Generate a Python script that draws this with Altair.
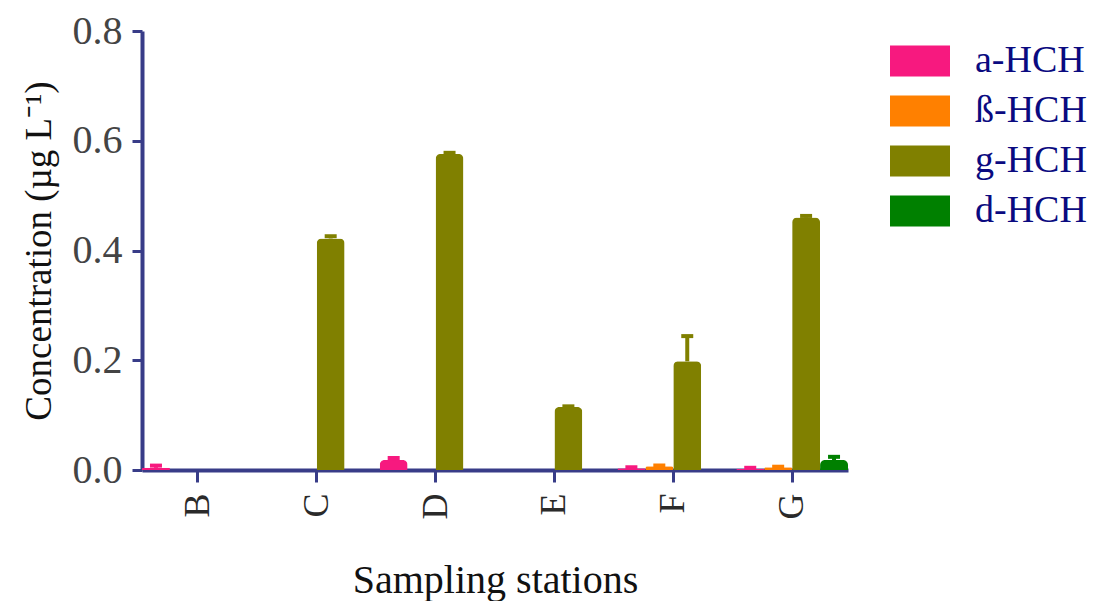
import altair as alt
import pandas as pd

# Mean HCH isomer concentrations (µg/L) per sampling station, with error bar heights
stations = ["B", "C", "D", "E", "F", "G"]
isomers = ["a-HCH", "ß-HCH", "g-HCH", "d-HCH"]
colors = ["#F7197F", "#FF8000", "#808000", "#008000"]

a_hch = [0.004, 0.0, 0.018, 0.0, 0.003, 0.002]
b_hch = [0.0, 0.0, 0.0, 0.0, 0.007, 0.005]
g_hch = [0.0, 0.422, 0.576, 0.115, 0.198, 0.460]
d_hch = [0.0, 0.0, 0.0, 0.0, 0.0, 0.018]

a_err = [0.004, 0.0, 0.004, 0.0, 0.002, 0.002]
b_err = [0.0, 0.0, 0.0, 0.0, 0.001, 0.001]
g_err = [0.0, 0.004, 0.002, 0.001, 0.046, 0.003]
d_err = [0.0, 0.0, 0.0, 0.0, 0.0, 0.006]

rows = []
for vals, errs, iso in zip([a_hch, b_hch, g_hch, d_hch], [a_err, b_err, g_err, d_err], isomers):
    for st, v, e in zip(stations, vals, errs):
        rows.append({"station": st, "isomer": iso, "value": v, "upper": v + e})
df = pd.DataFrame(rows)

FONT = "Liberation Serif"
AXIS_COLOR = "#383C88"

x_scale = alt.Scale(domain=stations, paddingInner=0.06, paddingOuter=0.0)
off_scale = alt.Scale(domain=isomers, paddingInner=0.0, paddingOuter=0.0)
color_scale = alt.Scale(domain=isomers, range=colors)
y_scale = alt.Scale(domain=[0, 0.8], nice=False)

x_enc = alt.X(
    "station:N",
    scale=x_scale,
    axis=alt.Axis(
        title="Sampling stations",
        labelAngle=-90,
        labelAlign="right",
        labelBaseline="middle",
        labelFont=FONT,
        labelFontSize=36,
        labelColor="#2a2a2a",
        labelPadding=11,
        titleFont=FONT,
        titleFontSize=40,
        titleFontWeight="normal",
        titleColor="#111111",
        titlePadding=42,
        domainColor=AXIS_COLOR,
        domainWidth=4,
        tickColor=AXIS_COLOR,
        tickWidth=3,
        tickSize=12,
    ),
)
off_enc = alt.XOffset("isomer:N", scale=off_scale, sort=isomers)
color_enc = alt.Color(
    "isomer:N",
    scale=color_scale,
    legend=alt.Legend(
        title=None,
        orient="none",
        legendX=748,
        legendY=0,
        symbolType="M-1,-0.52H1V0.52H-1Z",
        symbolSize=3600,
        symbolStrokeWidth=0,
        symbolOpacity=1,
        labelFont=FONT,
        labelFontSize=38,
        labelColor="#0A0A80",
        labelOffset=25,
        rowPadding=1,
    ),
)
y_enc = alt.Y(
    "value:Q",
    scale=y_scale,
    axis=alt.Axis(
        title="Concentration (µg L⁻¹)",
        values=[0, 0.2, 0.4, 0.6, 0.8],
        format=".1f",
        labelFont=FONT,
        labelFontSize=40,
        labelColor="#444444",
        labelPadding=10,
        titleFont=FONT,
        titleFontSize=37,
        titleFontWeight="normal",
        titleColor="#111111",
        titlePadding=14,
        domainColor=AXIS_COLOR,
        domainWidth=4,
        tickColor=AXIS_COLOR,
        tickWidth=3,
        tickSize=10,
    ),
)

bars = alt.Chart(df).mark_bar(cornerRadiusTopLeft=5, cornerRadiusTopRight=5).encode(
    x=x_enc, xOffset=off_enc, y=y_enc, color=color_enc
)

err_df = df[df["upper"] > df["value"]]
err_base = alt.Chart(err_df).encode(
    x=alt.X("station:N", scale=x_scale),
    xOffset=alt.XOffset("isomer:N", scale=off_scale, sort=isomers),
    color=alt.Color("isomer:N", scale=color_scale, legend=None),
)
whiskers = err_base.mark_rule(strokeWidth=4).encode(
    y=alt.Y("value:Q", scale=y_scale),
    y2="upper:Q",
)
caps = err_base.mark_tick(thickness=4, size=12, opacity=1).encode(
    y=alt.Y("upper:Q", scale=y_scale),
)

chart = (
    alt.layer(bars, whiskers, caps)
    .properties(
        width=706,
        height=439,
        background="white",
        autosize=alt.AutoSizeParams(type="none"),
        padding={"left": 142, "top": 31, "right": 245, "bottom": 131},
    )
    .configure_view(strokeOpacity=0)
    .configure_axis(grid=False)
)

chart.save("out.html", embed_options={"renderer": "svg", "actions": False})
